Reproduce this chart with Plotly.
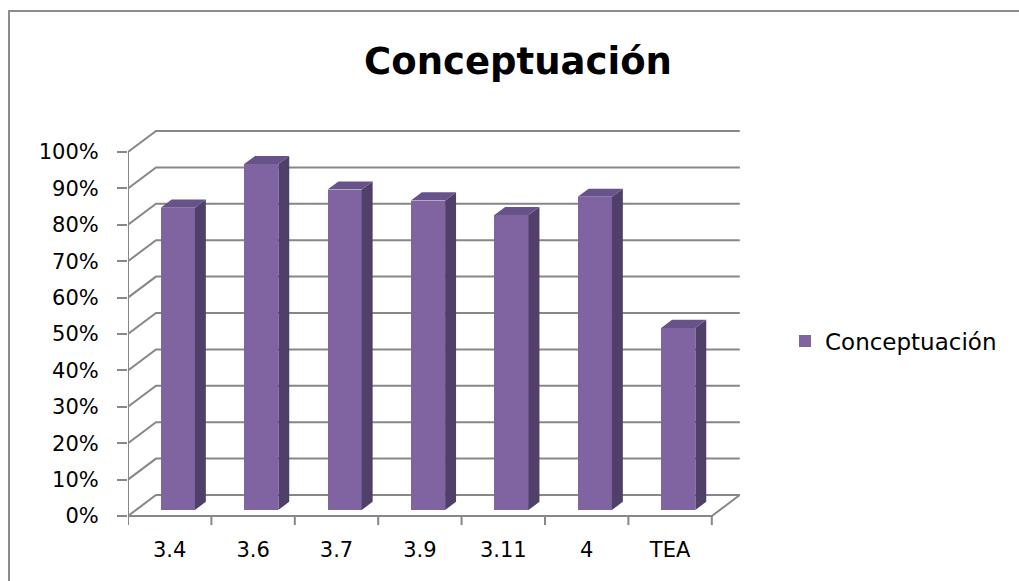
import plotly.graph_objects as go

# ---------------- data ----------------
categories = ["3.4", "3.6", "3.7", "3.9", "3.11", "4", "TEA"]
values = [83, 95, 88, 85, 81, 86, 50]
y_ticks = [0, 10, 20, 30, 40, 50, 60, 70, 80, 90, 100]
y_tick_labels = [f"{v}%" for v in y_ticks]
series_name = "Conceptuación"
title_text = "Conceptuación"

# ---------------- style / geometry ----------------
W, H = 1019, 581
PLOT_L, PLOT_R, PLOT_T, PLOT_B = 128, 740, 130, 527
PX_PER_CAT = 83.4
PX_PER_PCT = 3.64
DEPTH_X = 28 / PX_PER_CAT       # oblique depth in x data units
DEPTH_Y = 21 / PX_PER_PCT       # oblique depth in y data units
X_MAX = (PLOT_R - PLOT_L) / PX_PER_CAT
Y_MIN = -(PLOT_B - 516) / PX_PER_PCT
Y_MAX = Y_MIN + (PLOT_B - PLOT_T) / PX_PER_PCT

BAR_W = 0.41
FRONT_F, BACK_F = 0.29, 0.68
FRONT_COL = "#8064A2"
SIDE_COL = "#503F69"
TOP_COL = "#67528A"
GRID_COL = "#878787"
FONT = "DejaVu Sans"

fx, fy = FRONT_F * DEPTH_X, FRONT_F * DEPTH_Y
ddx, ddy = (BACK_F - FRONT_F) * DEPTH_X, (BACK_F - FRONT_F) * DEPTH_Y
n = len(categories)

fig = go.Figure()

# front faces
centers = [i + 0.5 + fx for i in range(n)]
fig.add_trace(go.Bar(
    x=centers, y=values, base=fy, width=BAR_W, name=series_name,
    marker=dict(color=FRONT_COL, line=dict(width=0)), showlegend=True,
    hoverinfo="skip"))

# side faces and top faces
sx, sy, tx, ty = [], [], [], []
for c, v in zip(centers, values):
    xl, xr = c - BAR_W / 2, c + BAR_W / 2
    top = fy + v
    sx += [xr, xr, xr + ddx, xr + ddx, xr, None]
    sy += [fy, top, top + ddy, fy + ddy, fy, None]
    tx += [xl, xr, xr + ddx, xl + ddx, xl, None]
    ty += [top, top, top + ddy, top + ddy, top, None]
fig.add_trace(go.Scatter(x=sx, y=sy, mode="lines", fill="toself", fillcolor=SIDE_COL,
                         line=dict(width=0, color=SIDE_COL), showlegend=False, hoverinfo="skip"))
fig.add_trace(go.Scatter(x=tx, y=ty, mode="lines", fill="toself", fillcolor=TOP_COL,
                         line=dict(width=0, color=TOP_COL), showlegend=False, hoverinfo="skip"))

# gridlines on side and back walls, floor, axes
shapes = []
ln = dict(color=GRID_COL, width=2)
for v in y_ticks:
    shapes.append(dict(type="path", layer="below", xref="x", yref="y", line=ln,
                       path=f"M0,{v} L{DEPTH_X},{v + DEPTH_Y} L{n + DEPTH_X},{v + DEPTH_Y}"))
# floor front edge and right edge
shapes.append(dict(type="path", layer="below", xref="x", yref="y", line=ln,
                   path=f"M0,0 L{n},0 L{n + DEPTH_X},{DEPTH_Y}"))
# front vertical axis
shapes.append(dict(type="line", layer="below", xref="x", yref="y", line=ln,
                   x0=0, x1=0, y0=0, y1=y_ticks[-1]))
# x tick marks
for k in range(n + 1):
    shapes.append(dict(type="line", layer="below", xref="x", yref="y", line=ln,
                       x0=k, x1=k, y0=0, y1=-2.5))
# outer chart frame (cut at right and bottom)
pw, ph = PLOT_R - PLOT_L, PLOT_B - PLOT_T
shapes.append(dict(type="path", xref="paper", yref="paper",
                   line=dict(color="#8C8C8C", width=2),
                   path=(f"M{(9 - PLOT_L) / pw},{(PLOT_B - 600) / ph} "
                         f"L{(9 - PLOT_L) / pw},{(PLOT_B - 11) / ph} "
                         f"L{(1030 - PLOT_L) / pw},{(PLOT_B - 11) / ph}")))

fig.update_layout(
    width=W, height=H,
    margin=dict(l=PLOT_L, r=W - PLOT_R, t=PLOT_T, b=H - PLOT_B, pad=0),
    paper_bgcolor="white", plot_bgcolor="white",
    shapes=shapes,
    title=dict(text=f"<b>{title_text}</b>", x=518 / W, xref="container", xanchor="center",
               y=1 - 61 / H, yref="container", yanchor="middle",
               font=dict(family=FONT, size=37, color="black")),
    legend=dict(x=(785 - PLOT_L) / pw, y=(PLOT_B - 341) / ph, xanchor="left", yanchor="middle",
                font=dict(family=FONT, size=23, color="black"), itemwidth=30,
                bgcolor="rgba(0,0,0,0)"),
    xaxis=dict(range=[0, X_MAX], tickmode="array", tickvals=[i + 0.5 for i in range(n)],
               ticktext=categories, ticks="", showgrid=False, zeroline=False, showline=False,
               tickfont=dict(family=FONT, size=21, color="black"), ticklabelstandoff=8,
               fixedrange=True),
    yaxis=dict(range=[Y_MIN, Y_MAX], tickmode="array", tickvals=y_ticks, ticktext=y_tick_labels,
               ticks="outside", ticklen=10, tickwidth=2, tickcolor=GRID_COL,
               showgrid=False, zeroline=False, showline=False,
               tickfont=dict(family=FONT, size=21, color="black"), ticklabelstandoff=14,
               fixedrange=True),
    bargap=0,
)

fig.write_html("out.html")
